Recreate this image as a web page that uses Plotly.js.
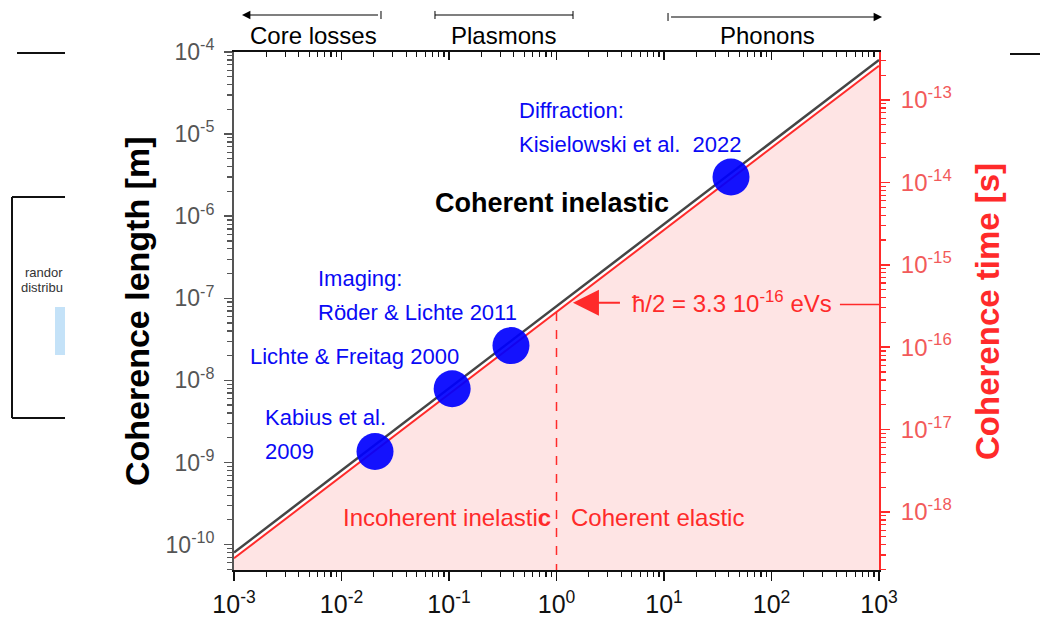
<!DOCTYPE html>
<html>
<head>
<meta charset="utf-8">
<script src="https://cdn.plot.ly/plotly-3.0.1.min.js"></script>
<style>html,body{margin:0;padding:0;background:#fff;}#chart{width:1040px;height:618px;}</style>
</head>
<body>
<div id="chart"></div>
<script>
// ---- data ----
const lineX = [1e-3, 1e3];
const coherentLength = [8.0e-11, 8.0e-5];      // black line
const incoherentLength = [6.8e-11, 6.8e-5];    // red line
const fillBase = [1e-12, 1e-12];
const studyNames = ['Kabius et al. 2009', 'Lichte & Freitag 2000', 'Röder & Lichte 2011', 'Kisielowski et al. 2022'];
const studyX = [0.0205, 0.107, 0.377, 42];
const studyLength = [1.36e-9, 7.9e-9, 2.65e-8, 3.0e-6];
const elasticX = [1, 1];
const elasticLength = [6.8e-8, 1e-12];
const hbarX = [433, 1e4];
const hbarTime = [3.3e-16, 3.3e-16];
const xTickVals = [1e-3, 1e-2, 1e-1, 1e0, 1e1, 1e2, 1e3];
const xTickText = ['10<sup>-3</sup>', '10<sup>-2</sup>', '10<sup>-1</sup>', '10<sup>0</sup>', '10<sup>1</sup>', '10<sup>2</sup>', '10<sup>3</sup>'];
const yTickVals = [1e-10, 1e-9, 1e-8, 1e-7, 1e-6, 1e-5, 1e-4];
const yTickText = ['10<sup>-10</sup>', '10<sup>-9</sup>', '10<sup>-8</sup>', '10<sup>-7</sup>', '10<sup>-6</sup>', '10<sup>-5</sup>', '10<sup>-4</sup>'];
const y2TickVals = [1e-18, 1e-17, 1e-16, 1e-15, 1e-14, 1e-13];
const y2TickText = ['10<sup>-18</sup>', '10<sup>-17</sup>', '10<sup>-16</sup>', '10<sup>-15</sup>', '10<sup>-14</sup>', '10<sup>-13</sup>'];

function minorVals(k0, k1) {
  const out = [];
  for (let k = k0; k <= k1; k++) for (let m = 2; m <= 9; m++) out.push(m * Math.pow(10, k));
  return out;
}

const FONT = 'Liberation Sans, Arial, sans-serif';
const RED = '#ff2a2a';
const BLUE = '#0a0af5';

const traces = [
  {x: lineX, y: fillBase, mode: 'lines', line: {width: 0, color: 'rgba(0,0,0,0)'}, hoverinfo: 'skip'},
  {x: lineX, y: incoherentLength, mode: 'lines', fill: 'tonexty', fillcolor: 'rgba(250,0,0,0.105)',
   line: {color: RED, width: 2}, hoverinfo: 'skip'},
  {x: lineX, y: coherentLength, mode: 'lines', line: {color: '#454545', width: 2.5}, hoverinfo: 'skip'},
  {x: elasticX, y: elasticLength, mode: 'lines', line: {color: RED, width: 1.5, dash: 'dash'}, hoverinfo: 'skip'},
  {x: studyX, y: studyLength, mode: 'markers', text: studyNames,
   marker: {size: 37, color: '#0000ff', opacity: 0.92}, hoverinfo: 'text'},
  {x: hbarX, y: hbarTime, xaxis: 'x2', yaxis: 'y2', mode: 'lines', line: {color: RED, width: 1.5}, hoverinfo: 'skip'}
];

function txt(x, y, text, color, size, xanchor, bold) {
  return {x: x, y: y, xref: 'x', yref: 'y', text: bold ? '<b>' + text + '</b>' : text, showarrow: false,
          xanchor: xanchor || 'left', yanchor: 'middle', font: {family: FONT, size: size, color: color}};
}
function paperTxt(x, y, text, color, size, xanchor, angle, bold) {
  return {x: x, y: y, xref: 'paper', yref: 'paper', text: bold ? '<b>' + text + '</b>' : text, showarrow: false,
          xanchor: xanchor || 'center', yanchor: 'middle', textangle: angle || 0,
          font: {family: FONT, size: size, color: color}};
}

const annotations = [
  txt(-0.367, -4.718, 'Diffraction:', BLUE, 22),
  txt(-0.367, -5.131, 'Kisielowski et al.\u00a0 2022', BLUE, 22),
  txt(-0.042, -5.837, 'Coherent inelastic', '#000', 27, 'center', true),
  txt(-2.237, -6.762, 'Imaging:', BLUE, 22),
  txt(-2.237, -7.175, 'Röder & Lichte 2011', BLUE, 22),
  txt(-2.870, -7.705, 'Lichte & Freitag 2000', BLUE, 22),
  txt(-2.730, -8.453, 'Kabius et al.', BLUE, 22),
  txt(-2.730, -8.866, '2009', BLUE, 22),
  txt(-2.005, -9.669, 'Incoherent inelasti<b>c</b>', RED, 24),
  txt(0.116, -9.669, 'Coherent elastic', RED, 24),
  txt(0.684, -7.041, 'ħ/2 = 3.3 10<sup>-16</sup> eVs', RED, 24),
  {x: 0.153, y: -7.053, xref: 'x', yref: 'y', text: ' ', showarrow: true, ax: 50, ay: 0,
   arrowhead: 2, arrowsize: 2.6, arrowwidth: 2, arrowcolor: RED},
  // top process labels
  paperTxt(0.1225, 1.031, 'Core losses', '#000', 24),
  paperTxt(0.4186, 1.031, 'Plasmons', '#000', 24),
  paperTxt(0.8264, 1.031, 'Phonons', '#000', 24),
  {x: 0.0124, y: 1.0714, xref: 'paper', yref: 'paper', text: ' ', showarrow: true, ax: 139, ay: 0,
   arrowhead: 2, arrowsize: 1.4, arrowwidth: 1.2, arrowcolor: '#000'},
  {x: 1.0047, y: 1.0676, xref: 'paper', yref: 'paper', text: ' ', showarrow: true, ax: -214, ay: 0,
   arrowhead: 2, arrowsize: 1.4, arrowwidth: 1.2, arrowcolor: '#000'},
  // axis titles
  paperTxt(-0.1504, 0.50, 'Coherence length [m]', '#000', 34, 'center', -90, true),
  paperTxt(1.1674, 0.50, 'Coherence time [s]', RED, 33, 'center', -90, true),
  // background remnants
  {x: -0.262, y: 0.5734, xref: 'paper', yref: 'paper', text: 'randor', showarrow: false, xanchor: 'right', yanchor: 'middle',
   font: {family: FONT, size: 13, color: '#333'}},
  {x: -0.262, y: 0.5463, xref: 'paper', yref: 'paper', text: 'distribu', showarrow: false, xanchor: 'right', yanchor: 'middle',
   font: {family: FONT, size: 13, color: '#333'}}
];

const shapes = [
  // top arrow end bars and plasmon bar
  {type: 'line', xref: 'paper', yref: 'paper', x0: 0.2279, x1: 0.2279, y0: 1.0637, y1: 1.0792, line: {color: '#000', width: 1}},
  {type: 'line', xref: 'paper', yref: 'paper', x0: 0.3116, x1: 0.5256, y0: 1.0714, y1: 1.0714, line: {color: '#000', width: 1.2}},
  {type: 'line', xref: 'paper', yref: 'paper', x0: 0.3116, x1: 0.3116, y0: 1.0637, y1: 1.0792, line: {color: '#000', width: 1}},
  {type: 'line', xref: 'paper', yref: 'paper', x0: 0.5256, x1: 0.5256, y0: 1.0637, y1: 1.0792, line: {color: '#000', width: 1}},
  {type: 'line', xref: 'paper', yref: 'paper', x0: 0.6729, x1: 0.6729, y0: 1.0599, y1: 1.0753, line: {color: '#000', width: 1}},
  // remnants of the underlying slide
  {type: 'line', xref: 'paper', yref: 'paper', x0: -0.3364, x1: -0.262, y0: 0.998, y1: 0.998, line: {color: '#111', width: 2}},
  {type: 'line', xref: 'paper', yref: 'paper', x0: 1.2031, x1: 1.2496, y0: 0.9961, y1: 0.9961, line: {color: '#111', width: 2}},
  {type: 'line', xref: 'paper', yref: 'paper', x0: -0.3442, x1: -0.262, y0: 0.7201, y1: 0.7201, line: {color: '#111', width: 2}},
  {type: 'line', xref: 'paper', yref: 'paper', x0: -0.3442, x1: -0.3442, y0: 0.7201, y1: 0.2934, line: {color: '#111', width: 2}},
  {type: 'line', xref: 'paper', yref: 'paper', x0: -0.3442, x1: -0.262, y0: 0.2934, y1: 0.2934, line: {color: '#111', width: 2}},
  {type: 'rect', xref: 'paper', yref: 'paper', x0: -0.2775, x1: -0.262, y0: 0.4151, y1: 0.5077, fillcolor: '#c4e2f8', line: {width: 0}}
];

const layout = {
  width: 1040, height: 618,
  margin: {l: 234, r: 161, t: 52, b: 48, pad: 0},
  paper_bgcolor: '#ffffff', plot_bgcolor: '#ffffff',
  showlegend: false,
  font: {family: FONT},
  xaxis: {
    type: 'log', range: [-3, 3], showgrid: false, zeroline: false,
    showline: true, linecolor: '#111', linewidth: 2,
    ticks: 'outside', ticklen: 9, tickwidth: 1.5, tickcolor: '#111',
    tickmode: 'array', tickvals: xTickVals, ticktext: xTickText,
    tickfont: {family: FONT, size: 25, color: '#111'}, ticklabelstandoff: 2,
    minor: {tickmode: 'array', tickvals: minorVals(-3, 2), ticks: 'outside', ticklen: 5, tickwidth: 1.2, tickcolor: '#111', showgrid: false}
  },
  xaxis2: {
    type: 'log', range: [-3, 3], overlaying: 'x', side: 'top', showgrid: false, zeroline: false,
    showline: true, linecolor: '#111', linewidth: 2,
    ticks: 'inside', ticklen: 8, tickwidth: 1.5, tickcolor: '#111',
    tickmode: 'array', tickvals: xTickVals, showticklabels: false,
    minor: {tickmode: 'array', tickvals: minorVals(-3, 2), ticks: 'inside', ticklen: 5, tickwidth: 1.2, tickcolor: '#111', showgrid: false}
  },
  yaxis: {
    type: 'log', range: [-10.31, -4.0], showgrid: false, zeroline: false,
    showline: true, linecolor: '#555', linewidth: 2,
    ticks: 'outside', ticklen: 8, tickwidth: 1.5, tickcolor: '#555',
    tickmode: 'array', tickvals: yTickVals, ticktext: yTickText,
    tickfont: {family: FONT, size: 23, color: '#555'}, ticklabelstandoff: 5,
    minor: {tickmode: 'array', tickvals: minorVals(-11, -5), ticks: 'outside', ticklen: 5, tickwidth: 1.2, tickcolor: '#555', showgrid: false}
  },
  yaxis2: {
    type: 'log', range: [-18.705, -12.417], overlaying: 'y', side: 'right', showgrid: false, zeroline: false,
    showline: true, linecolor: RED, linewidth: 2,
    ticks: 'outside', ticklen: 9, tickwidth: 1.5, tickcolor: RED,
    tickmode: 'array', tickvals: y2TickVals, ticktext: y2TickText,
    tickfont: {family: FONT, size: 24, color: '#f25a5a'}, ticklabelstandoff: 6,
    minor: {tickmode: 'array', tickvals: minorVals(-19, -13), ticks: 'outside', ticklen: 5, tickwidth: 1.2, tickcolor: RED, showgrid: false}
  },
  annotations: annotations,
  shapes: shapes
};

Plotly.newPlot('chart', traces, layout, {displayModeBar: false, staticPlot: true});
</script>
</body>
</html>
